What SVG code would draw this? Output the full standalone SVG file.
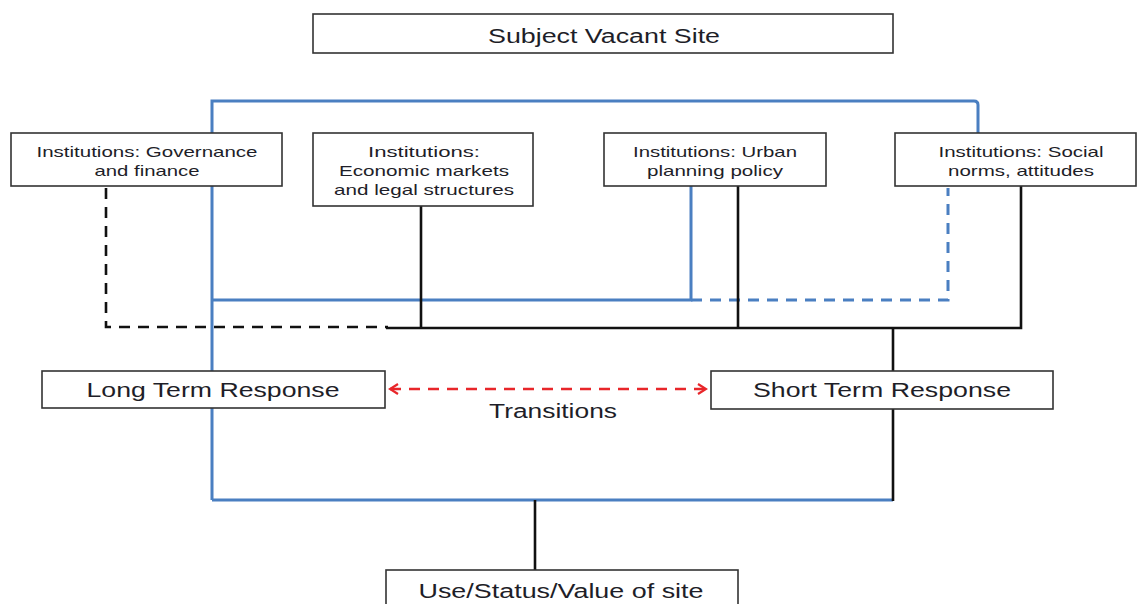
<svg xmlns="http://www.w3.org/2000/svg" width="1137" height="604" viewBox="0 0 1137 604">
<style>
.box{fill:#fff;stroke:#333;stroke-width:1.6}
.t{font-family:"Liberation Sans",Arial,sans-serif;fill:#1e1e28;text-anchor:middle}
.s{font-size:15px}
.l{font-size:20px}
.blue{fill:none;stroke:#4a7fc1;stroke-width:3}
.blk{fill:none;stroke:#111;stroke-width:2.6}
.dash{stroke-dasharray:11 8}
</style>
<defs>
<marker id="ah" viewBox="0 0 12 12" refX="10" refY="6" markerWidth="12" markerHeight="12" markerUnits="userSpaceOnUse" orient="auto-start-reverse">
<path d="M2,1 L10,6 L2,11" fill="none" stroke="#e8262a" stroke-width="2.2"/>
</marker>
</defs>
<g id="connectors">
<path class="blue" d="M212,500 V101 H974 Q978,101 978,105 V133"/>
<path class="blue" d="M212,300 H691 V186"/>
<path class="blue dash" d="M691,300 H948 V188"/>
<path class="blue" d="M212,500 H893"/>
<path class="blk dash" d="M106,188 V327 H388"/>
<path class="blk" d="M386,328 H1021 V186"/>
<path class="blk" d="M421,206 V328"/>
<path class="blk" d="M738,186 V328"/>
<path class="blk" d="M893,328 V371"/>
<path class="blk" d="M893,409 V501"/>
<path class="blk" d="M535,500 V570"/>
<path d="M390,389 H706" fill="none" stroke="#e8262a" stroke-width="2.6" stroke-dasharray="11 8" marker-start="url(#ah)" marker-end="url(#ah)"/>
<text class="t l" x="553" y="418" textLength="128" lengthAdjust="spacingAndGlyphs">Transitions</text>
</g>
<g id="subject">
<rect class="box" x="313" y="14" width="580" height="39"/>
<text class="t l" x="604" y="43" textLength="232" lengthAdjust="spacingAndGlyphs">Subject Vacant Site</text>
</g>
<g id="gov">
<rect class="box" x="11" y="133" width="271" height="53"/>
<text class="t s" x="147" y="157" textLength="221" lengthAdjust="spacingAndGlyphs">Institutions: Governance</text>
<text class="t s" x="147" y="176" textLength="105" lengthAdjust="spacingAndGlyphs">and finance</text>
</g>
<g id="econ">
<rect class="box" x="313" y="133" width="220" height="73"/>
<text class="t s" x="424" y="157" textLength="112" lengthAdjust="spacingAndGlyphs">Institutions:</text>
<text class="t s" x="424" y="176" textLength="170" lengthAdjust="spacingAndGlyphs">Economic markets</text>
<text class="t s" x="424" y="195" textLength="180" lengthAdjust="spacingAndGlyphs">and legal structures</text>
</g>
<g id="urban">
<rect class="box" x="604" y="133" width="222" height="53"/>
<text class="t s" x="715" y="157" textLength="164" lengthAdjust="spacingAndGlyphs">Institutions: Urban</text>
<text class="t s" x="715" y="176" textLength="136" lengthAdjust="spacingAndGlyphs">planning policy</text>
</g>
<g id="social">
<rect class="box" x="895" y="133" width="241" height="53"/>
<text class="t s" x="1021" y="157" textLength="165" lengthAdjust="spacingAndGlyphs">Institutions: Social</text>
<text class="t s" x="1021" y="176" textLength="146" lengthAdjust="spacingAndGlyphs">norms, attitudes</text>
</g>
<g id="long">
<rect class="box" x="42" y="371" width="343" height="37"/>
<text class="t l" x="213" y="397" textLength="253" lengthAdjust="spacingAndGlyphs">Long Term Response</text>
</g>
<g id="short">
<rect class="box" x="711" y="371" width="342" height="38"/>
<text class="t l" x="882" y="397" textLength="258" lengthAdjust="spacingAndGlyphs">Short Term Response</text>
</g>
<g id="use">
<rect class="box" x="386" y="570" width="352" height="40"/>
<text class="t l" x="561" y="598" textLength="285" lengthAdjust="spacingAndGlyphs">Use/Status/Value of site</text>
</g>
</svg>
